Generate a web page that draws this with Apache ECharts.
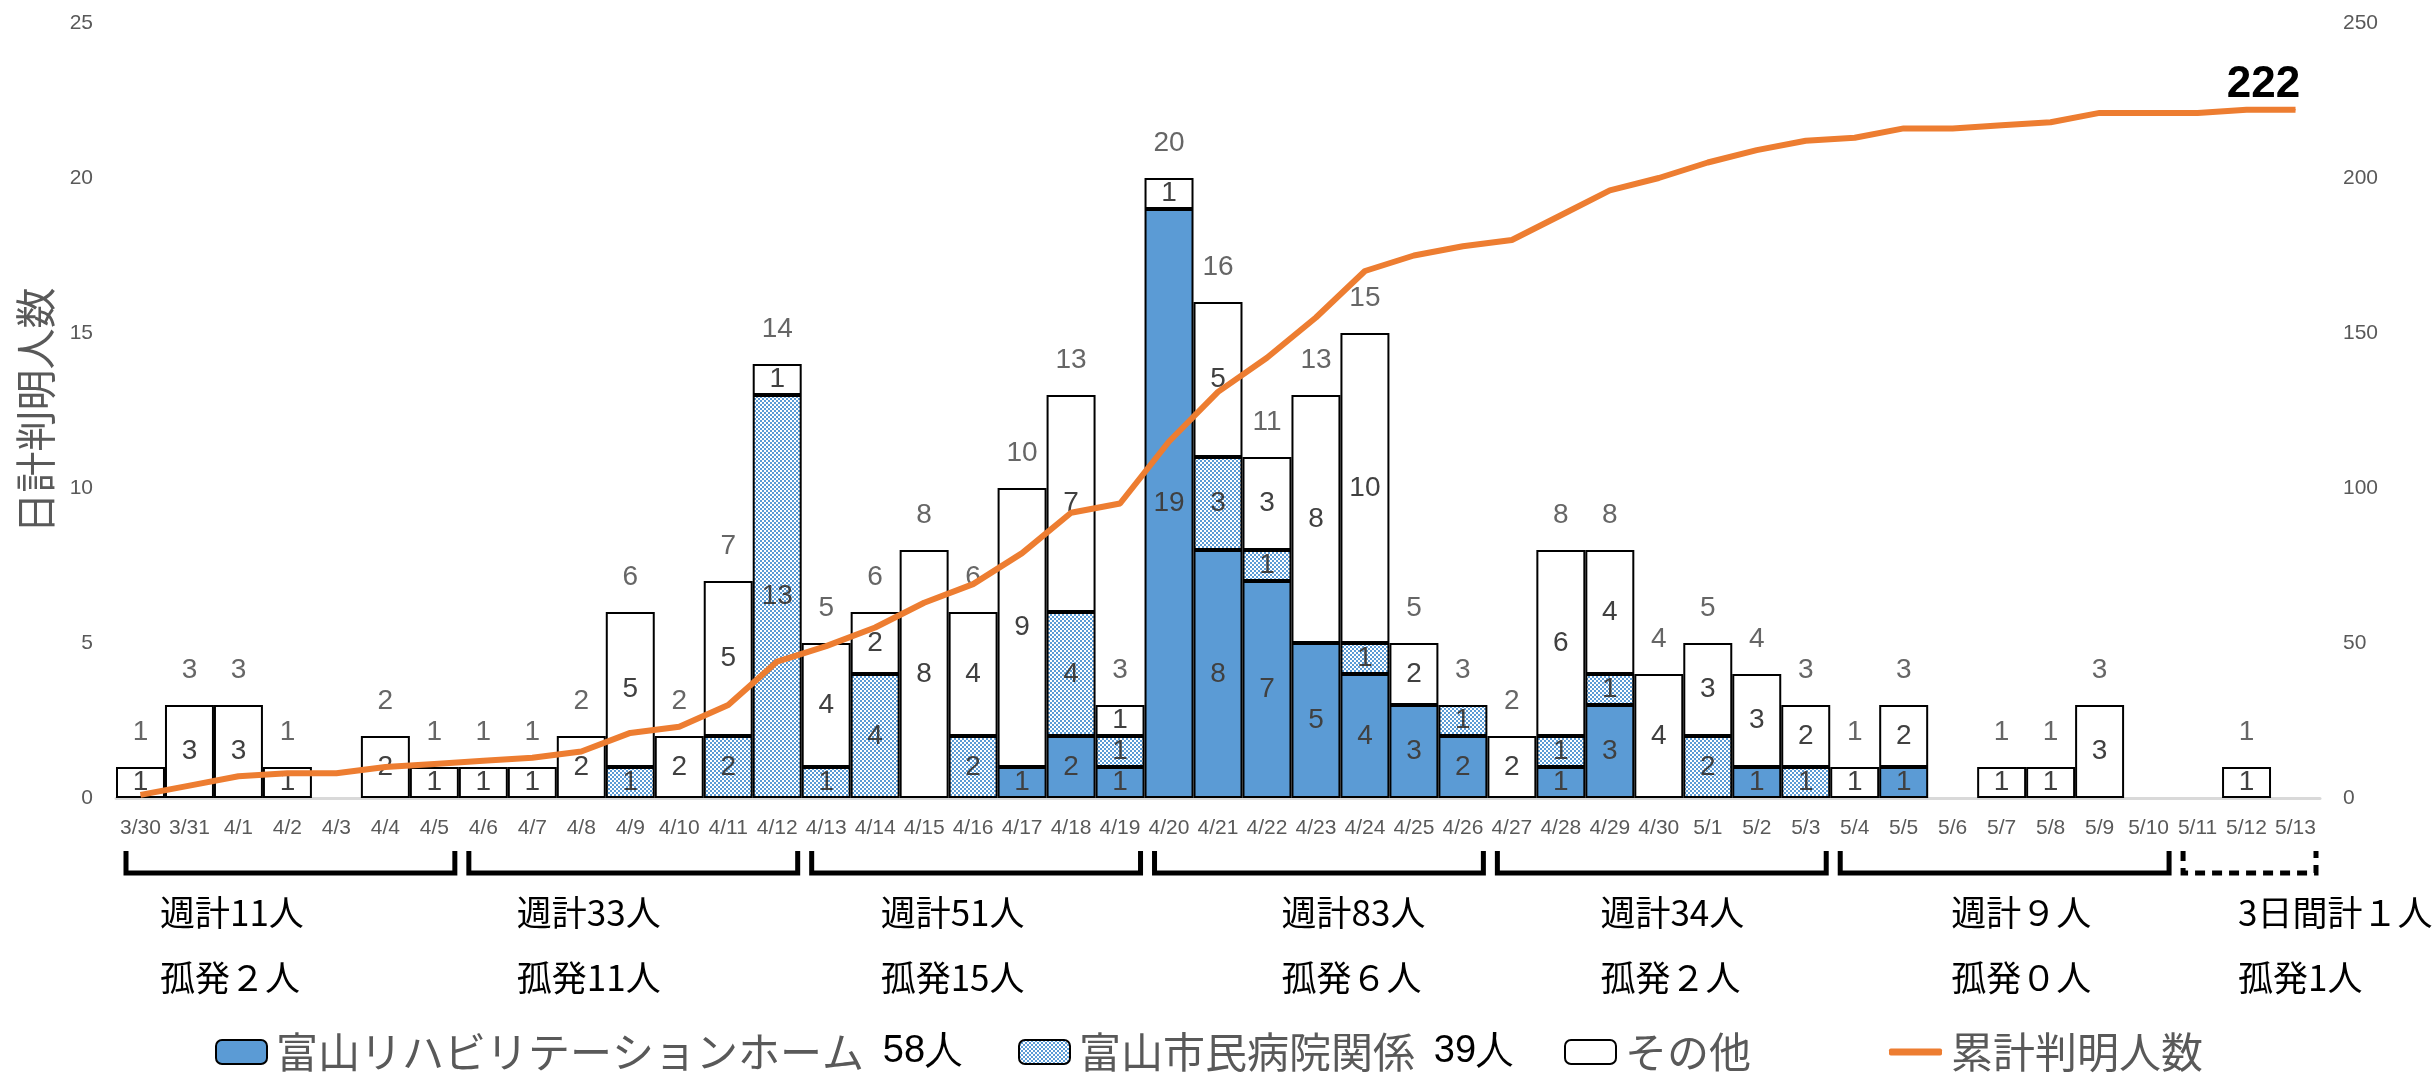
<!DOCTYPE html>
<html>
<head>
<meta charset="utf-8">
<script src="https://cdn.jsdelivr.net/npm/echarts@6/dist/echarts.min.js"></script>
<style>
  html, body { margin: 0; padding: 0; background: #fff; }
  #main { width: 2433px; height: 1073px; }
</style>
</head>
<body>
<div id="main"></div>
<script>
const dates = ['3/30', '3/31', '4/1', '4/2', '4/3', '4/4', '4/5',
  '4/6', '4/7', '4/8', '4/9', '4/10', '4/11', '4/12',
  '4/13', '4/14', '4/15', '4/16', '4/17', '4/18', '4/19',
  '4/20', '4/21', '4/22', '4/23', '4/24', '4/25', '4/26',
  '4/27', '4/28', '4/29', '4/30', '5/1', '5/2', '5/3',
  '5/4', '5/5', '5/6', '5/7', '5/8', '5/9', '5/10',
  '5/11', '5/12', '5/13']

// 日別の内訳
const rehab = [0, 0, 0, 0, 0, 0, 0, 0, 0, 0, 0, 0, 0, 0, 0, 0, 0, 0, 1, 2, 1,
  19, 8, 7, 5, 4, 3, 2, 0, 1, 3, 0, 0, 1, 0, 0, 1, 0, 0, 0, 0, 0, 0, 0, 0]
const hospital = [0, 0, 0, 0, 0, 0, 0, 0, 0, 0, 1, 0, 2, 13, 1, 4, 0, 2, 0, 4, 1,
  0, 3, 1, 0, 1, 0, 1, 0, 1, 1, 0, 2, 0, 1, 0, 0, 0, 0, 0, 0, 0, 0, 0, 0]
const other = [1, 3, 3, 1, 0, 2, 1, 1, 1, 2, 5, 2, 5, 1, 4, 2, 8, 4, 9, 7, 1,
  1, 5, 3, 8, 10, 2, 0, 2, 6, 4, 4, 3, 3, 2, 1, 2, 0, 1, 1, 3, 0, 0, 1, 0]
const totals = [1, 3, 3, 1, 0, 2, 1, 1, 1, 2, 6, 2, 7, 14, 5, 6, 8, 6, 10, 13, 3,
  20, 16, 11, 13, 15, 5, 3, 2, 8, 8, 4, 5, 4, 3, 1, 3, 0, 1, 1, 3, 0, 0, 1, 0]
const cumulative = [1, 4, 7, 8, 8, 10, 11, 12, 13, 15, 21, 23, 30, 44, 49, 55, 63, 69, 79, 92, 95,
  115, 131, 142, 155, 170, 175, 178, 180, 188, 196, 200, 205, 209, 212, 213, 216, 216, 217, 218, 221, 221,
  221, 222, 222]

// 週ごとの区切り（開始・終了の日付）と注記
const weekRanges = [['3/30', '4/5'], ['4/6', '4/12'], ['4/13', '4/19'], ['4/20', '4/26'],
  ['4/27', '5/3'], ['5/4', '5/10'], ['5/11', '5/13']]
const weekTotalLabels = ['週計11人', '週計33人', '週計51人', '週計83人', '週計34人', '週計９人', '3日間計１人']
const isolatedLabels = ['孤発２人', '孤発11人', '孤発15人', '孤発６人', '孤発２人', '孤発０人', '孤発1人']

const seriesNames = ['富山リハビリテーションホーム', '富山市民病院関係', 'その他', '累計判明人数']

const NUM_FONT = '"Liberation Sans", sans-serif'
const NARROW_FONT = '"Liberation Sans Narrow", "Liberation Sans", sans-serif'
const CJK_FONT = '"Noto Sans CJK JP", sans-serif'
const GREY = '#595959'

function dotPattern() {
  const c = document.createElement('canvas')
  c.width = 4
  c.height = 4
  const g = c.getContext('2d')
  g.fillStyle = '#ffffff'
  g.fillRect(0, 0, 4, 4)
  g.fillStyle = '#5b9bd5'
  g.fillRect(0, 0, 2, 2)
  g.fillRect(2, 2, 2, 2)
  return c
}

const sum = arr => arr.reduce((a, b) => a + b, 0)
const noZero = arr => arr.map(v => (v === 0 ? '-' : v))

const insideLabel = {
  show: true,
  position: 'inside',
  color: '#404040',
  fontSize: 28,
  fontFamily: NUM_FONT
}

function barSeries(name, data, color) {
  return {
    name,
    type: 'bar',
    stack: 'day',
    barCategoryGap: '0%',
    data: noZero(data),
    itemStyle: { color, borderColor: '#000', borderWidth: 2 },
    label: insideLabel,
    emphasis: { disabled: true }
  }
}

const legendBase = {
  top: 1026,
  itemWidth: 51,
  itemHeight: 24,
  itemGap: 0,
  textStyle: {
    fontFamily: CJK_FONT,
    fontSize: 42,
    color: GREY,
    padding: [0, 0, 0, 4],
    rich: {
      t: { fontFamily: CJK_FONT, fontSize: 42, color: GREY },
      n: { fontFamily: NUM_FONT, fontSize: 38, color: '#000' }
    }
  }
}

const option = {
  animation: false,
  backgroundColor: '#fff',
  grid: { left: 116, right: 113, top: 23, bottom: 275, outerBoundsMode: 'none' },
  xAxis: {
    type: 'category',
    data: dates,
    axisLine: { lineStyle: { color: '#d9d9d9', width: 3 } },
    axisTick: { show: false },
    axisLabel: { interval: 0, color: GREY, fontSize: 21, margin: 20, fontFamily: NARROW_FONT }
  },
  yAxis: [
    {
      type: 'value',
      min: 0,
      max: 25,
      interval: 5,
      name: '日計判明人数',
      nameLocation: 'middle',
      nameGap: 60,
      nameRotate: 90,
      nameTextStyle: { fontSize: 41, color: GREY, fontFamily: CJK_FONT },
      axisLine: { show: false },
      axisTick: { show: false },
      splitLine: { show: false },
      axisLabel: { color: GREY, fontSize: 21, margin: 23, fontFamily: NARROW_FONT }
    },
    {
      type: 'value',
      min: 0,
      max: 250,
      interval: 50,
      position: 'right',
      axisLine: { show: false },
      axisTick: { show: false },
      splitLine: { show: false },
      axisLabel: { color: GREY, fontSize: 21, margin: 23, fontFamily: NARROW_FONT }
    }
  ],
  legend: [
    Object.assign({}, legendBase, {
      left: 210,
      data: [seriesNames[0]],
      formatter: n => '{t|' + n + '}  {n|' + sum(rehab) + '人}'
    }),
    Object.assign({}, legendBase, {
      left: 1013,
      data: [seriesNames[1]],
      formatter: n => '{t|' + n + '}  {n|' + sum(hospital) + '人}'
    }),
    Object.assign({}, legendBase, {
      left: 1559,
      data: [seriesNames[2]]
    }),
    Object.assign({}, legendBase, {
      left: 1884,
      itemWidth: 53,
      itemHeight: 7,
      data: [{ name: seriesNames[3], icon: 'roundRect' }]
    })
  ],
  series: [
    barSeries(seriesNames[0], rehab, '#5b9bd5'),
    barSeries(seriesNames[1], hospital, { image: dotPattern(), repeat: 'repeat' }),
    barSeries(seriesNames[2], other, '#ffffff'),
    {
      name: 'total',
      type: 'scatter',
      data: noZero(totals),
      symbolSize: 1,
      itemStyle: { color: 'rgba(0,0,0,0)' },
      label: {
        show: true,
        position: 'top',
        distance: 20,
        color: '#404040',
        fontSize: 28,
        fontFamily: NUM_FONT
      },
      silent: true
    },
    {
      name: seriesNames[3],
      type: 'line',
      yAxisIndex: 1,
      z: 5,
      data: cumulative.map((v, i) => i === cumulative.length - 1
        ? {
            value: v,
            label: {
              show: true,
              position: 'top',
              distance: 2,
              offset: [-32, 0],
              color: '#000',
              fontWeight: 'bold',
              fontSize: 44,
              fontFamily: NARROW_FONT
            }
          }
        : v),
      symbol: 'circle',
      symbolSize: 1,
      showSymbol: true,
      itemStyle: { color: '#ed7d31' },
      lineStyle: { color: '#ed7d31', width: 6 },
      silent: true
    }
  ]
}

const chart = echarts.init(document.getElementById('main'))
chart.setOption(option)

// 週区切りの括弧と注記を軸の位置から描く
const xAt = d => chart.convertToPixel({ xAxisIndex: 0 }, d)
const band = xAt(dates[1]) - xAt(dates[0])
const textOffsets = [44, 58, 79, 137, 113, 121, 65]
const graphics = []
weekRanges.forEach(([s, e], k) => {
  const x1 = xAt(s) - band / 2 + 10
  const x2 = xAt(e) + band / 2 - 4
  const last = k === weekRanges.length - 1
  graphics.push({
    type: 'polyline',
    shape: { points: [[x1, 851], [x1, 873], [x2, 873], [x2, 851]] },
    style: { stroke: '#000', lineWidth: 5, fill: null, lineDash: last ? [10, 7] : null }
  })
  const tx = xAt(s) - band / 2 + textOffsets[k]
  graphics.push({
    type: 'text',
    x: tx,
    y: 913,
    style: { text: weekTotalLabels[k], fontSize: 35, fontFamily: CJK_FONT, fill: '#000', align: 'left', verticalAlign: 'middle' }
  })
  graphics.push({
    type: 'text',
    x: tx,
    y: 978,
    style: { text: isolatedLabels[k], fontSize: 35, fontFamily: CJK_FONT, fill: '#000', align: 'left', verticalAlign: 'middle' }
  })
})
chart.setOption({ graphic: graphics })
</script>
</body>
</html>
